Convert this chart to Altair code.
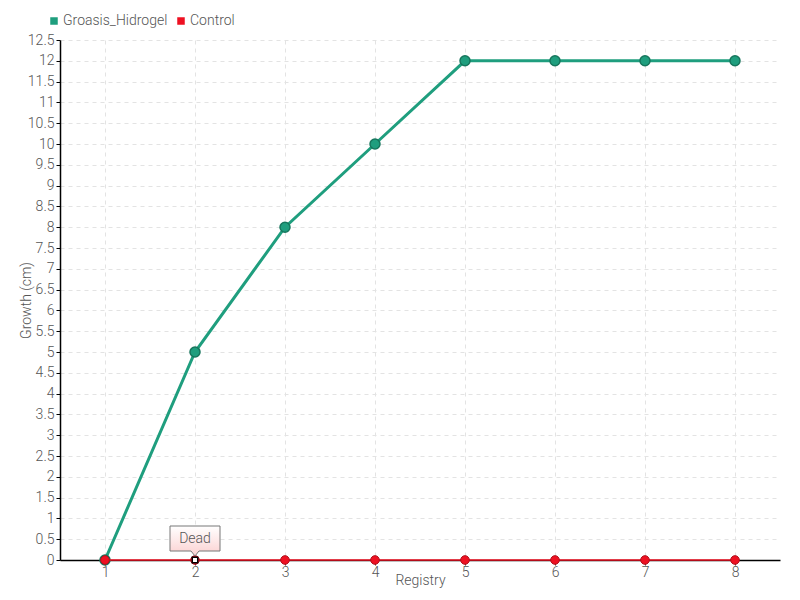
import altair as alt
import pandas as pd

registry = [1, 2, 3, 4, 5, 6, 7, 8]
groasis = [0, 5, 8, 10, 12, 12, 12, 12]
control = [0, 0, 0, 0, 0, 0, 0, 0]
series_names = ["Groasis_Hidrogel", "Control"]
series_colors = ["#1f9e7e", "#ee1122"]
y_ticks = [i * 0.5 for i in range(26)]
note_x = [2]
note_y = [0]
note_text = ["Dead"]

df = pd.DataFrame({
    "Registry": registry * 2,
    "Growth": groasis + control,
    "Series": [series_names[0]] * len(registry) + [series_names[1]] * len(registry),
})
note = pd.DataFrame({"Registry": note_x, "Growth": note_y, "label": note_text})

FONT = "Roboto"
GREY = "#555555"
FW = 300
FS = 14

xs = alt.Scale(domain=[0.5, 8.5], nice=False, zero=False)
ys = alt.Scale(domain=[0, 12.5], nice=False)
cs = alt.Scale(domain=series_names, range=series_colors)

x_enc = alt.X("Registry:Q", scale=xs,
              axis=alt.Axis(values=registry, title="Registry", format="d",
                            grid=True, gridDash=[4, 4], gridColor="#e3e3e3",
                            domainColor="#000", tickColor="#333", tickSize=5,
                            labelPadding=0, titleY=13, titleBaseline="top",
                            labelColor=GREY, titleColor=GREY, labelFontSize=FS,
                            titleFontSize=FS, titleFontWeight=FW, labelFontWeight=FW,
                            labelFont=FONT, titleFont=FONT))
y_enc = alt.Y("Growth:Q", scale=ys,
              axis=alt.Axis(values=y_ticks, title="Growth (cm)", format="~g",
                            grid=True, gridDash=[4, 4], gridColor="#e3e3e3",
                            domainColor="#000", tickColor="#000", tickSize=4,
                            labelPadding=2, titleX=-27,
                            labelColor=GREY, titleColor=GREY, labelFontSize=FS,
                            titleFontSize=FS, titleFontWeight=FW, labelFontWeight=FW,
                            labelFont=FONT, titleFont=FONT))
color_enc = alt.Color("Series:N", scale=cs,
                      legend=alt.Legend(title=None, orient="none", legendX=-13, legendY=-26,
                                        direction="horizontal", symbolType="square",
                                        symbolSize=36, labelFontSize=FS, labelColor=GREY,
                                        labelFont=FONT, labelFontWeight=FW, labelOffset=2,
                                        columnPadding=6, symbolOffset=0))

g = df[df.Series == series_names[0]]
c = df[df.Series == series_names[1]]

g_line = alt.Chart(g).mark_line(strokeWidth=3).encode(x=x_enc, y=y_enc, color=color_enc)
g_pts = alt.Chart(g).mark_point(filled=True, size=100, stroke="#17765d", strokeWidth=1.5, opacity=1).encode(
    x=x_enc, y=y_enc, color=color_enc)
c_line = alt.Chart(c).mark_line(strokeWidth=1.5).encode(x=x_enc, y=y_enc, color=color_enc)
c_pts = alt.Chart(c).mark_point(filled=True, size=75, opacity=1, stroke="#b0101c", strokeWidth=1).encode(
    x=x_enc, y=y_enc, color=color_enc)

dead_marker = alt.Chart(note).mark_point(shape="square", filled=True, fill="white", stroke="black",
                                         strokeWidth=1.5, size=30, opacity=1).encode(x=x_enc, y=y_enc)
callout_path = "M-25,-34 L25,-34 L25,-9 L4,-9 L0,-4 L-4,-9 L-25,-9 Z"
callout = alt.Chart(note).mark_point(
    shape=callout_path, size=4, filled=True, opacity=1, strokeWidth=1, stroke="#777777",
    fill=alt.Gradient(gradient="linear", stops=[alt.GradientStop(color="#ffffff", offset=0),
                                                alt.GradientStop(color="#fbd0d0", offset=1)],
                      x1=0, x2=0, y1=0, y2=1)
).encode(x=x_enc, y=y_enc)
callout_text = alt.Chart(note).mark_text(dy=-21, fontSize=FS, font=FONT, fontWeight=FW, color=GREY).encode(
    x=x_enc, y=y_enc, text="label:N")

chart = alt.layer(g_line, g_pts, c_line, c_pts, dead_marker, callout, callout_text).properties(
    width=720, height=520,
    autosize=alt.AutoSizeParams(type="none"),
    padding={"left": 52, "top": 32, "right": 12, "bottom": 30},
).configure_view(stroke=None).configure_axis(domainWidth=1.5)

chart.save("out.html", embed_options={"renderer": "svg", "actions": False})
